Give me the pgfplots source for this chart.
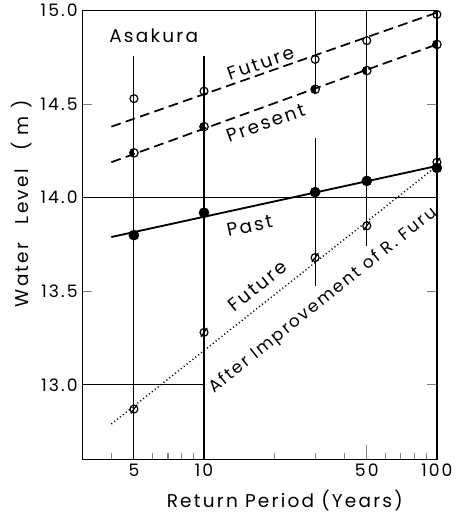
\documentclass[border=0pt]{standalone}
\usepackage{fontspec}
\setmainfont{Poppins}[LetterSpace=12]
\usepackage{pgfplots}
\pgfplotsset{compat=1.18}
\pgfdeclareplotmark{halfc}{%
  \pgfpathmoveto{\pgfqpoint{0pt}{\pgfplotmarksize}}%
  \pgfpatharc{90}{270}{\pgfplotmarksize}%
  \pgfpathclose\pgfusepathqfill
  \pgfpathcircle{\pgfpointorigin}{\pgfplotmarksize}\pgfusepathqstroke}
\pgfdeclareplotmark{slashc}{%
  \pgfpathcircle{\pgfpointorigin}{\pgfplotmarksize}\pgfusepathqstroke
  \pgfpathmoveto{\pgfqpoint{-0.8\pgfplotmarksize}{-1.1\pgfplotmarksize}}%
  \pgfpathlineto{\pgfqpoint{0.8\pgfplotmarksize}{1.1\pgfplotmarksize}}%
  \pgfusepathqstroke}
\newcommand\lf{\fontsize{14}{16}\selectfont}
\begin{document}
\begin{tikzpicture}
\begin{axis}[
  scale only axis, width=268.5pt, height=339.75pt,
  xmode=log, xmin=3, xmax=100, ymin=12.6, ymax=15.0,
  xtick={5,10,50,100}, xticklabels={5,10,50,100},
  minor xtick={4,6,7,8,9,20,30,40,60,70,80,90},
  ytick={13,13.5,14,14.5,15},
  yticklabel style={/pgf/number format/.cd, fixed, fixed zerofill, precision=1},
  /pgf/number format/assume math mode=true,
  xtick pos=bottom, ytick pos=both, yticklabel pos=left, tick align=inside,
  major tick length=7.5pt, minor tick length=5pt,
  xtick style={/pgfplots/major tick length=11pt, line width=0.9pt},
  ytick style={line width=0.9pt},
  minor tick style={line width=0.9pt},
  axis line style={line width=1.1pt},
  tick label style={font=\fontsize{13}{15}\selectfont},
  label style={font=\lf},
  xlabel={Return Period (Years)},
  ylabel={Water\hspace{1em}Level\hspace{1em}(\hspace{0.4em}m\hspace{0.4em})},
  xlabel style={at={(ticklabel cs:0.571)}, yshift=-3pt},
  ylabel style={at={(ticklabel cs:0.57)}},
]
% reference lines
\addplot[black, line width=0.9pt] coordinates {(5,14.76) (5,12.6)};
\addplot[black, line width=0.9pt] coordinates {(10,14.76) (10,12.6)};
\addplot[black, line width=0.9pt] coordinates {(30,15.0) (30,14.56)};
\addplot[black, line width=0.9pt] coordinates {(30,14.32) (30,13.53)};
\addplot[black, line width=0.9pt] coordinates {(50,15.0) (50,13.74)};
\addplot[black, line width=0.9pt] coordinates {(3,14.0) (100,14.0)};
\addplot[black, line width=0.9pt] coordinates {(3,13.0) (10,13.0)};
% fitted lines
\addplot[black, line width=1.3pt, dash pattern=on 7.5pt off 4pt] coordinates {(4,14.38) (100,14.99)};
\addplot[black, line width=1.3pt, dash pattern=on 7.5pt off 4pt] coordinates {(4,14.19) (100,14.82)};
\addplot[black, line width=1.4pt] coordinates {(4,13.79) (100,14.17)};
\addplot[black, line width=1.1pt, dash pattern=on 0.8pt off 2pt] coordinates {(4,12.79) (100,14.17)};
% data points
\addplot[only marks, mark=o, mark size=3pt, mark options={line width=0.9pt}] coordinates {(5,14.53) (10,14.57) (30,14.74) (50,14.84) (100,14.98)};
\addplot[only marks, mark=halfc, mark size=3.2pt, mark options={line width=0.9pt, fill=black}] coordinates {(5,14.24) (10,14.38) (30,14.58) (50,14.68) (100,14.82)};
\addplot[only marks, mark=*, mark size=3.8pt, fill=black] coordinates {(5,13.80) (10,13.92) (30,14.03) (50,14.09) (100,14.16)};
\addplot[only marks, mark=slashc, mark size=3pt, mark options={line width=0.9pt}] coordinates {(5,12.87) (10,13.28) (30,13.68) (50,13.85) (100,14.19)};
% labels
\node[font=\lf] at (axis cs:6.08,14.867) {Asakura};
\node[font=\lf, rotate=19] at (axis cs:17.5,14.72) {Future};
\node[font=\lf, rotate=19.7] at (axis cs:18.4,14.40) {Present};
\node[font=\lf, rotate=12] at (axis cs:15.7,13.85) {Past};
\node[font=\lf, rotate=38.7] at (axis cs:17.0,13.527) {Future};
\node[font=\fontsize{12.8}{15}\selectfont, rotate=38.7] at (axis cs:32.5,13.45) {After Improvement of R. Furu};
\end{axis}
\path (-62.25pt,-39pt) rectangle (282.75pt,347.25pt);
\end{tikzpicture}
\end{document}
